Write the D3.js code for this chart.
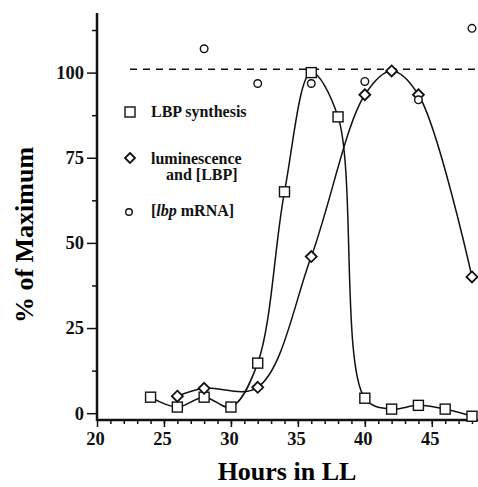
<!DOCTYPE html>
<head>
<script src="https://d3js.org/d3.v7.min.js"></script>
<style>
  body { margin: 0; background: #fff; }
  svg { display: block; }
  .tick text { font-family: "Liberation Serif", "DejaVu Serif", serif; font-weight: bold; font-size: 18.5px; fill: #111; }
  .domain { display: none; }
  .tick line { stroke: #111; stroke-width: 1.5; }
  .legend text { font-family: "Liberation Serif", serif; font-weight: bold; font-size: 16px; fill: #111; }
</style>
</head>
<body>
<svg width="478" height="487"></svg>
<script>
// hours in constant light vs percent of maximum
const synthHours = [24, 26, 28, 30, 32, 34, 36, 38, 40, 42, 44, 46, 48];
const synthPct   = [4.7, 1.8, 4.7, 1.8, 14.7, 65, 100, 87, 4.4, 1.2, 2.3, 1.2, -0.9];
const lumHours   = [26, 28, 32, 36, 40, 42, 44, 48];
const lumPct     = [5, 7.3, 7.6, 46, 93.5, 100.5, 93.5, 40];
const mrnaHours  = [28, 32, 36, 40, 44, 48];
const mrnaPct    = [107, 96.8, 96.8, 97.4, 92, 113];
const refLevel   = 101;
const xMajor = [20, 25, 30, 35, 40, 45];
const yMajor = [0, 25, 50, 75, 100];
const yMinor = [12.5, 37.5, 62.5, 87.5, 112.5];

const svg = d3.select("svg");
const x = d3.scaleLinear().domain([20, 48.45]).range([97, 478]);
const y = d3.scaleLinear().domain([-2, 117.5]).range([420, 13]);

// axes
svg.append("g").attr("transform", "translate(0,420)")
  .call(d3.axisBottom(x).tickValues(d3.range(21, 49)).tickSize(4).tickFormat(""));
svg.append("g").attr("transform", "translate(0,420)")
  .call(d3.axisBottom(x).tickValues(xMajor).tickSize(7).tickPadding(5).tickFormat(d3.format("d")))
  .selectAll("text").attr("dx", "-2");
svg.append("g").attr("transform", "translate(97,0)")
  .call(d3.axisLeft(y).tickValues(yMinor).tickSize(5).tickFormat(""));
svg.append("g").attr("transform", "translate(97,0)")
  .call(d3.axisLeft(y).tickValues(yMajor).tickSize(10).tickPadding(3).tickFormat(d3.format("d")));

svg.append("line").attr("x1", 97).attr("x2", 478).attr("y1", 420).attr("y2", 420)
  .attr("stroke", "#111").attr("stroke-width", 2.5);
svg.append("line").attr("x1", 97).attr("x2", 97).attr("y1", 13).attr("y2", 421)
  .attr("stroke", "#111").attr("stroke-width", 2.5);

// titles
svg.append("text").attr("x", 287).attr("y", 480).attr("text-anchor", "middle")
  .style("font-family", "Liberation Serif, serif").style("font-weight", "bold").style("font-size", "26px")
  .text("Hours in LL");
svg.append("text").attr("transform", "translate(33,235) rotate(-90)").attr("text-anchor", "middle")
  .style("font-family", "Liberation Serif, serif").style("font-weight", "bold").style("font-size", "26px")
  .text("% of Maximum");

// dashed 100% reference
svg.append("line").attr("x1", 130).attr("x2", 478).attr("y1", y(refLevel)).attr("y2", y(refLevel))
  .attr("stroke", "#111").attr("stroke-width", 1.5).attr("stroke-dasharray", "7,6");

// curves
const line = d3.line().x(d => x(d[0])).y(d => y(d[1])).curve(d3.curveCatmullRom.alpha(0.5));
svg.append("path").datum(d3.zip(synthHours, synthPct)).attr("d", line)
  .attr("fill", "none").attr("stroke", "#111").attr("stroke-width", 1.5);
svg.append("path").datum(d3.zip(lumHours, lumPct)).attr("d", line)
  .attr("fill", "none").attr("stroke", "#111").attr("stroke-width", 1.5);

// markers
const diamond = s => `M0,${-s}L${s},0L0,${s}L${-s},0Z`;

svg.selectAll(".sq").data(d3.zip(synthHours, synthPct)).join("rect")
  .attr("x", d => x(d[0]) - 5).attr("y", d => y(d[1]) - 5)
  .attr("width", 10).attr("height", 10)
  .attr("fill", "#fff").attr("stroke", "#111").attr("stroke-width", 1.4);

svg.selectAll(".dm").data(d3.zip(lumHours, lumPct)).join("path")
  .attr("transform", d => `translate(${x(d[0])},${y(d[1])})`)
  .attr("d", diamond(5.5))
  .attr("fill", "#fff").attr("stroke", "#111").attr("stroke-width", 1.8);

svg.selectAll(".ci").data(d3.zip(mrnaHours, mrnaPct)).join("circle")
  .attr("cx", d => x(d[0])).attr("cy", d => y(d[1])).attr("r", 3.8)
  .attr("fill", "#fff").attr("stroke", "#111").attr("stroke-width", 1.4);

// legend
const lg = svg.append("g").attr("class", "legend");
lg.append("rect").attr("x", 125).attr("y", 107).attr("width", 10).attr("height", 10)
  .attr("fill", "#fff").attr("stroke", "#111").attr("stroke-width", 1.4);
lg.append("text").attr("x", 151).attr("y", 117).text("LBP synthesis");
lg.append("path").attr("transform", "translate(130,158)").attr("d", diamond(5))
  .attr("fill", "#fff").attr("stroke", "#111").attr("stroke-width", 1.8);
lg.append("text").attr("x", 151).attr("y", 164).text("luminescence");
lg.append("text").attr("x", 166).attr("y", 180).text("and [LBP]");
lg.append("circle").attr("cx", 129).attr("cy", 212).attr("r", 3.3)
  .attr("fill", "#fff").attr("stroke", "#111").attr("stroke-width", 1.4);
const t3 = lg.append("text").attr("x", 151).attr("y", 216);
t3.append("tspan").text("[");
t3.append("tspan").style("font-style", "italic").text("lbp");
t3.append("tspan").text(" mRNA]");
</script>
</body>
